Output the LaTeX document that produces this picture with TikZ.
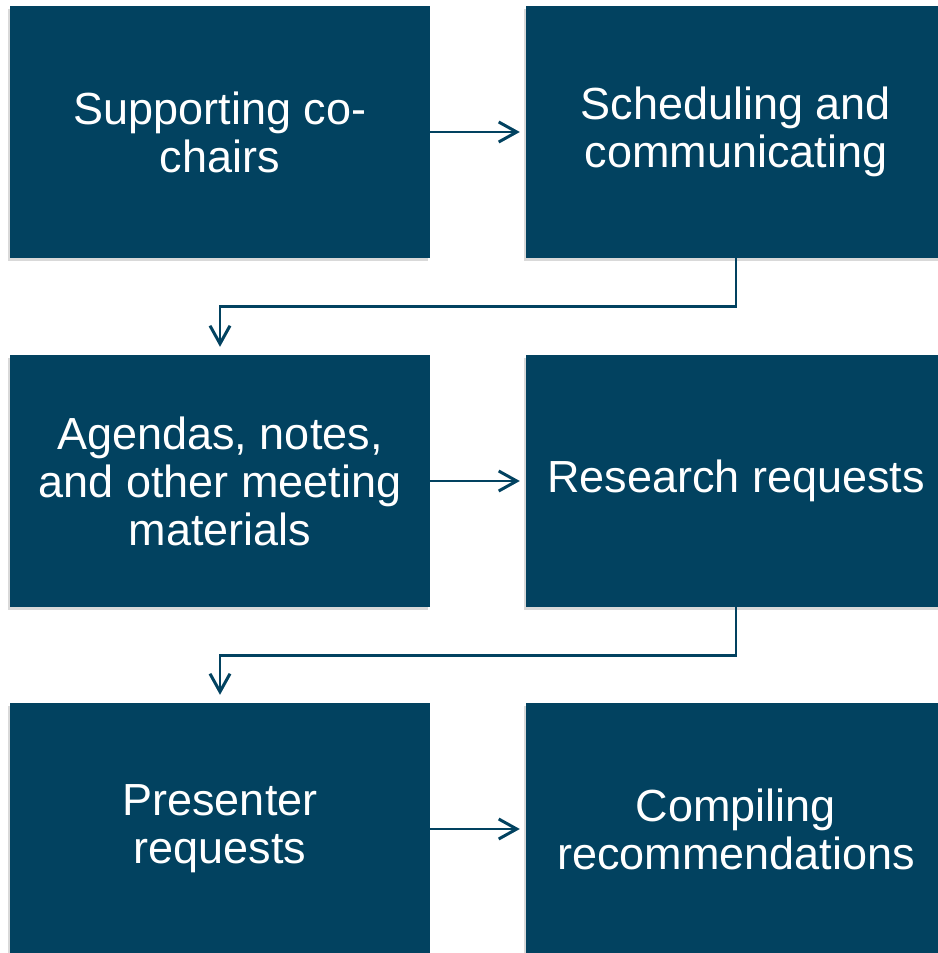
\documentclass[tikz,border=0pt]{standalone}
\usepackage{fontspec}
\setmainfont{Liberation Sans}
\usetikzlibrary{arrows.meta}
\usetikzlibrary{shadows}
\definecolor{stepbg}{RGB}{2,66,96}
\tikzset{fcp/.style={
  x=1pt,
  y=1pt
}}
\tikzset{stepbox/.style={
  fill=stepbg,
  shape=rectangle,
  minimum width=420pt,
  minimum height=252pt,
  inner sep=0pt,
  text=white,
  align=center,
  font=\fontsize{45}{48}\selectfont,
  drop shadow={shadow xshift=-2pt,shadow yshift=-3pt,opacity=0.25,fill=black!60},
}}
\tikzset{flow/.style={
  draw=stepbg,
  line width=2.5pt,
  -{Straight Barb[length=18pt,width=20pt,line width=3pt]},
}}

\begin{document}
\begin{tikzpicture}[fcp]
    \useasboundingbox (0,0) rectangle (937,-953);
    % Top row
    \node[stepbox] (cochairs) at (220,-132) {Supporting co-\\chairs};
    \node[stepbox] (sched) at (736,-132) {Scheduling and\\communicating};
    % Middle row
    \node[stepbox] (agenda) at (220,-481) {Agendas, notes,\\and other meeting\\materials};
    \node[stepbox] (research) at (736,-481) {Research requests};
    % Bottom row
    \node[stepbox] (presenter) at (220,-829) {Presenter\\requests};
    \node[stepbox] (compile) at (736,-829) {Compiling\\recommendations};
    % Connectors
    \draw[flow,shorten >=6pt] (cochairs) -- (sched);
    \draw[flow,shorten >=8pt] (sched.south) -- ++(0,-48.5) -| (agenda.north);
    \draw[flow,shorten >=6pt] (agenda) -- (research);
    \draw[flow,shorten >=8pt] (research.south) -- ++(0,-48.5) -| (presenter.north);
    \draw[flow,shorten >=6pt] (presenter) -- (compile);
  \end{tikzpicture}
\end{document}
